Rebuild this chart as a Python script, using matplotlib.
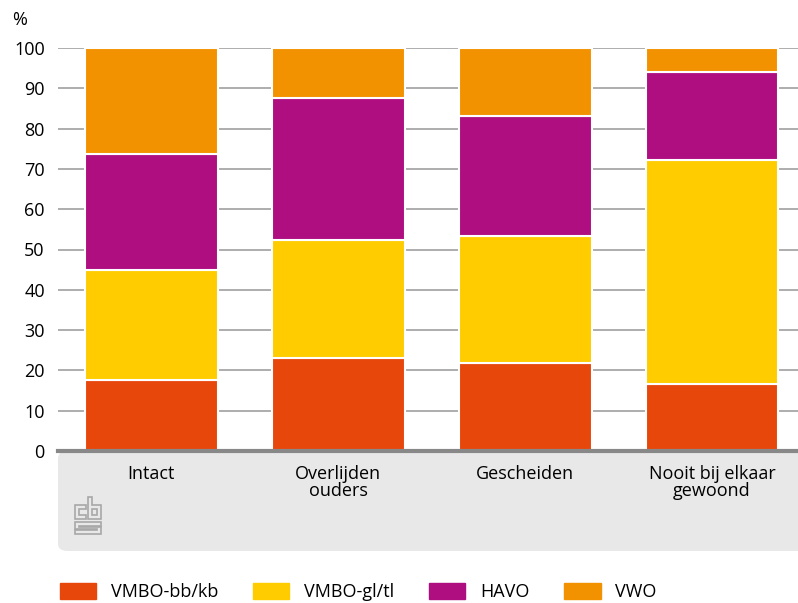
import matplotlib.pyplot as plt
from matplotlib.patches import FancyBboxPatch, Rectangle, Polygon
import numpy as np

# ─── DATA ─────────────────────────────────────────────────────────────────────
categories = ["Intact", "Overlijden\nouders", "Gescheiden", "Nooit bij elkaar\ngewoond"]
series = ["VMBO-bb/kb", "VMBO-gl/tl", "HAVO", "VWO"]
vmbo_bb = [17.6, 23.1, 21.8, 16.6]
vmbo_gl = [27.3, 29.3, 31.5, 55.6]
havo = [28.8, 35.2, 29.8, 21.8]
vwo = [26.3, 12.4, 16.9, 6.0]
colors = ["#E8470C", "#FFCC00", "#AF0E80", "#F39200"]
yticks = list(range(0, 101, 10))

plt.rcParams['font.family'] = ['Open Sans', 'DejaVu Sans']
FS = 13

W, H = 798, 603
fig = plt.figure(figsize=(W / 100, H / 100), dpi=100)


def px(x, y):
    # pixel position (from top-left) -> figure fraction
    return (x / W, 1 - y / H)


# grey panel under the axis
panel = FancyBboxPatch(px(58, 551), (W - 58) / W + 0.02, (551 - 451) / H,
                       boxstyle="round,pad=0,rounding_size=0.012",
                       transform=fig.transFigure, facecolor="#E8E8E8",
                       edgecolor="none", zorder=-5)
fig.patches.append(panel)

ax = fig.add_axes([58 / W, 1 - 451 / H, (W - 58) / W, (451 - 48) / H])
ax.set_facecolor("none")
ax.set_zorder(2)

x = np.arange(len(categories))
bottom = np.zeros(len(categories))
for name, vals, c in zip(series, [vmbo_bb, vmbo_gl, havo, vwo], colors):
    ax.bar(x, vals, bottom=bottom, width=0.71, color=c, edgecolor="white",
           linewidth=1.5, label=name, zorder=3)
    bottom += np.array(vals)

ax.set_ylim(0, 100)
ax.set_xlim(-0.5, 3.46)
ax.set_yticks(yticks)
ax.set_yticklabels([str(t) for t in yticks], fontsize=FS)
ax.yaxis.grid(True, color="#A0A0A0", linewidth=1.2, zorder=0)
ax.set_axisbelow(True)
ax.tick_params(axis='y', length=0, pad=9.5)
ax.set_xticks(x)
ax.set_xticklabels(categories, fontsize=FS, linespacing=0.95)
ax.tick_params(axis='x', length=0, pad=10)
for s in ["top", "right", "left"]:
    ax.spines[s].set_visible(False)
ax.spines["bottom"].set_color("#888888")
ax.spines["bottom"].set_linewidth(3)
ax.spines["bottom"].set_zorder(4)

fig.text(*px(12, 20), "%", fontsize=FS, va="center", ha="left")

# small cbs logo outline
logo = dict(transform=fig.transFigure, fill=False, edgecolor="#A8A8A8",
            linewidth=1.2, zorder=-4)
c_shape = [(86, 505), (75, 505), (75, 519), (86, 519), (86, 515),
           (79, 515), (79, 509), (86, 509)]
b_shape = [(88, 497), (92, 497), (92, 505), (101, 505), (101, 519), (88, 519)]
b_hole = [(92, 509), (97, 509), (97, 515), (92, 515)]
s_shape = [(75, 522), (101, 522), (101, 526), (79, 526), (79, 527), (101, 527),
           (101, 534), (75, 534), (75, 530), (97, 530), (97, 529), (75, 529)]
for shape in [c_shape, b_shape, b_hole, s_shape]:
    fig.patches.append(Polygon([px(a, b) for a, b in shape], closed=True, **logo))

# legend
handles = [Rectangle((0, 0), 1, 1, color=c) for c in colors]
fig.legend(handles, series, loc="center left", bbox_to_anchor=(px(44, 592)),
           ncol=4, frameon=False, fontsize=FS, handlelength=2.0, handleheight=1.0,
           columnspacing=1.95, handletextpad=0.8)

fig.savefig("out.png", dpi=100)
